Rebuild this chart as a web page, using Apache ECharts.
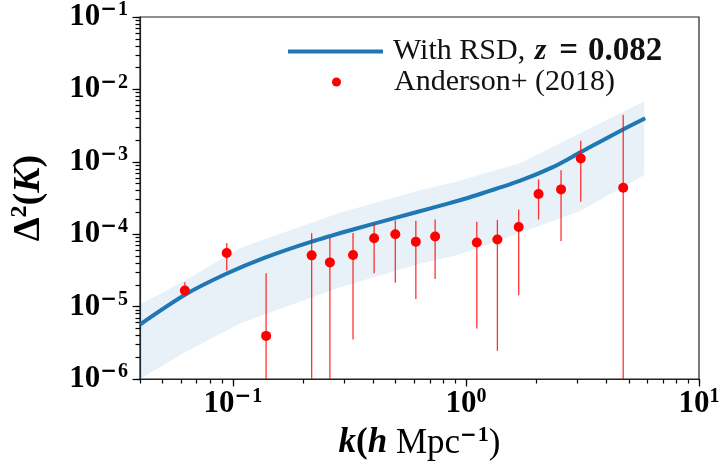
<!DOCTYPE html>
<html>
<head>
<meta charset="utf-8">
<script src="https://cdn.jsdelivr.net/npm/echarts@6/dist/echarts.min.js"></script>
<style>
  html, body { margin: 0; padding: 0; background: #fff; }
  #chart { width: 726px; height: 468px; }
</style>
</head>
<body>
<div id="chart"></div>
<script>
const obsK   = [0.0623, 0.0942, 0.139, 0.218, 0.261, 0.328, 0.404, 0.498, 0.61, 0.738, 1.114, 1.365, 1.685, 2.05, 2.56, 3.11, 4.73];
const obsVal = [1.67e-5, 5.5e-5, 3.94e-6, 5.1e-5, 4.08e-5, 5.16e-5, 8.8e-5, 1.0e-4, 7.87e-5, 9.3e-5, 7.7e-5, 8.45e-5, 1.26e-4, 3.59e-4, 4.16e-4, 1.11e-3, 4.38e-4];
const obsHi  = [2.17e-5, 7.54e-5, 2.88e-5, 1.03e-4, 9.0e-5, 1.04e-4, 1.40e-4, 1.54e-4, 1.53e-4, 1.6e-4, 1.48e-4, 1.58e-4, 2.19e-4, 5.71e-4, 7.67e-4, 1.96e-3, 4.47e-3];
const obsLo  = [1.43e-5, 3.14e-5, 5e-7, 5e-7, 5e-7, 3.5e-6, 2.88e-5, 2.14e-5, 1.27e-5, 2.4e-5, 4.97e-6, 2.45e-6, 1.43e-5, 1.59e-4, 8.03e-5, 2.81e-4, 5e-7];

// model curve with RSD
const modelK   = [0.0401, 0.0629, 0.0943, 0.1357, 0.218, 0.328, 0.498, 0.737, 0.933, 1.04, 1.70, 2.36, 3.11, 4.55, 5.88];
const modelVal = [5.69e-6, 1.48e-5, 2.86e-5, 4.67e-5, 7.88e-5, 1.16e-4, 1.68e-4, 2.37e-4, 2.92e-4, 3.24e-4, 5.45e-4, 8.43e-4, 1.36e-3, 2.63e-3, 4.0e-3];

// shaded band
const bandK     = [0.04, 0.0624, 0.108, 0.286, 0.635, 0.933, 1.70, 3.09, 5.82];
const bandUpper = [1.07e-5, 2.29e-5, 6.5e-5, 1.97e-4, 4.04e-4, 5.42e-4, 9.57e-4, 2.47e-3, 6.8e-3];
const bandLower = [1.0e-6, 2.35e-6, 5.87e-6, 1.84e-5, 3.92e-5, 5.21e-5, 1.04e-4, 2.09e-4, 6.55e-4];

// ticks
const X_MIN = 0.04, X_MAX = 10, Y_MIN = 1e-6, Y_MAX = 1e-1;
const xMajor = [0.1, 1, 10];
const xMinor = [0.04, 0.05, 0.06, 0.07, 0.08, 0.09, 0.2, 0.3, 0.4, 0.5, 0.6, 0.7, 0.8, 0.9, 2, 3, 4, 5, 6, 7, 8, 9];
const yMajor = [1e-6, 1e-5, 1e-4, 1e-3, 1e-2, 1e-1];
const yMinor = [];
[1e-6, 1e-5, 1e-4, 1e-3, 1e-2].forEach(d => { for (let m = 2; m <= 9; m++) yMinor.push(+(m * d).toPrecision(3)); });

const SERIF = "'Liberation Serif', 'DejaVu Serif', serif";
const tickRich = {
  b: { fontFamily: SERIF, fontWeight: 'bold', fontSize: 31, color: '#000' },
  m: { fontFamily: "'DejaVu Sans'", fontWeight: 'bold', fontSize: 20, color: '#000', padding: [0, 1, 14, 0] },
  s: { fontFamily: SERIF, fontWeight: 'bold', fontSize: 20, color: '#000', padding: [0, 0, 14, 0] }
};
function powLabel(v) {
  const e = Math.round(Math.log10(v));
  return '{b|10}' + (e < 0 ? '{m|\u2212}{s|' + (-e) + '}' : '{s|' + e + '}');
}

const chart = echarts.init(document.getElementById('chart'));

const option = {
  animation: false,
  grid: { left: 139, right: 27, top: 15, bottom: 89, show: true, borderColor: '#222', borderWidth: 1.2 },
  legend: [
    {
      data: [{ name: 'model', icon: 'rect' }],
      left: 288, top: 35, padding: 0,
      itemWidth: 95, itemHeight: 4,
      formatter: () => '{r|With RSD, }{bi|z}{eq|=}{b|0.082}',
      textStyle: {
        padding: [0, 0, 0, 5],
        rich: {
          r: { fontFamily: SERIF, fontSize: 30, color: '#111' },
          bi: { fontFamily: SERIF, fontSize: 30, fontWeight: 'bold', fontStyle: 'italic', color: '#111', padding: [0, 0, 0, 2] },
          eq: { fontFamily: SERIF, fontSize: 33, fontWeight: 'bold', color: '#111', padding: [0, 10, 0, 13] },
          b: { fontFamily: SERIF, fontSize: 33, fontWeight: 'bold', color: '#111' }
        }
      }
    },
    {
      data: [{ name: 'Anderson+ (2018)', icon: 'circle' }],
      left: 332, top: 67, padding: 0,
      itemWidth: 95, itemHeight: 9,
      textStyle: { fontFamily: SERIF, fontSize: 30, color: '#111', padding: [0, 0, 0, 5] }
    }
  ],
  xAxis: [
    {
      type: 'log', logBase: 10, min: X_MIN, max: X_MAX,
      axisLine: { show: true, lineStyle: { color: '#222', width: 1.2 } },
      axisTick: { show: true, customValues: xMajor.concat(xMinor), length: 4.5, lineStyle: { color: '#000', width: 1.2 } },
      axisLabel: { customValues: xMajor, formatter: powLabel, margin: 8, rich: tickRich },
      splitLine: { show: false },
      name: '{bi|k}{b|(}{bi|h}{r| Mpc}{m|\u2212}{s|1}{r|)}',
      nameLocation: 'middle', nameGap: 44,
      nameTextStyle: {
        rich: {
          bi: { fontFamily: SERIF, fontSize: 35, fontWeight: 'bold', fontStyle: 'italic', color: '#000' },
          b: { fontFamily: SERIF, fontSize: 35, fontWeight: 'bold', color: '#000' },
          r: { fontFamily: SERIF, fontSize: 35, color: '#000' },
          m: { fontFamily: "'DejaVu Sans'", fontWeight: 'bold', fontSize: 20, color: '#000', padding: [0, 1, 16, 0] },
          s: { fontFamily: SERIF, fontWeight: 'bold', fontSize: 22, color: '#000', padding: [0, 0, 16, 0] }
        }
      }
    },
    {
      // longer ticks at the decades
      type: 'log', logBase: 10, min: X_MIN, max: X_MAX, position: 'bottom',
      axisLine: { show: false },
      axisTick: { show: true, customValues: xMajor, length: 7.5, lineStyle: { color: '#000', width: 1.2 } },
      axisLabel: { show: false },
      splitLine: { show: false }
    }
  ],
  yAxis: [
    {
      type: 'log', logBase: 10, min: Y_MIN, max: Y_MAX,
      axisLine: { show: true, lineStyle: { color: '#222', width: 1.2 } },
      axisTick: { show: true, customValues: yMajor.concat(yMinor), length: 4.5, lineStyle: { color: '#000', width: 1.2 } },
      axisLabel: { customValues: yMajor, formatter: powLabel, margin: 12, rich: tickRich },
      splitLine: { show: false },
      name: '{b|\u0394}{s|2}{b|(}{bi|K}{b|)}',
      nameLocation: 'middle', nameRotate: 90, nameGap: 90,
      nameTextStyle: {
        rich: {
          b: { fontFamily: SERIF, fontSize: 38, fontWeight: 'bold', color: '#000' },
          bi: { fontFamily: SERIF, fontSize: 38, fontWeight: 'bold', fontStyle: 'italic', color: '#000' },
          s: { fontFamily: SERIF, fontSize: 24, fontWeight: 'bold', color: '#000', padding: [0, 0, 18, 0] }
        }
      }
    },
    {
      type: 'log', logBase: 10, min: Y_MIN, max: Y_MAX, position: 'left',
      axisLine: { show: false },
      axisTick: { show: true, customValues: yMajor, length: 7.5, lineStyle: { color: '#000', width: 1.2 } },
      axisLabel: { show: false },
      splitLine: { show: false }
    }
  ],
  series: [
    {
      // shaded uncertainty band
      type: 'custom',
      clip: true,
      silent: true,
      z: 1,
      data: [0],
      renderItem: function (params, api) {
        const pts = [];
        for (let i = 0; i < bandK.length; i++) pts.push(api.coord([bandK[i], bandUpper[i]]));
        for (let i = bandK.length - 1; i >= 0; i--) pts.push(api.coord([bandK[i], bandLower[i]]));
        return { type: 'polygon', shape: { points: pts }, style: { fill: 'rgba(31,119,180,0.1)' } };
      }
    },
    {
      name: 'model',
      type: 'line',
      z: 3,
      data: modelK.map((k, i) => [k, modelVal[i]]),
      symbol: 'none',
      smooth: 0.3,
      lineStyle: { color: '#1f77b4', width: 4 },
      itemStyle: { color: '#1f77b4' }
    },
    {
      // error bars
      type: 'custom',
      clip: true,
      z: 4,
      data: obsK.map((k, i) => [k, obsLo[i], obsHi[i]]),
      encode: { x: 0, y: [1, 2] },
      renderItem: function (params, api) {
        const a = api.coord([api.value(0), api.value(1)]);
        const b = api.coord([api.value(0), api.value(2)]);
        return { type: 'line', shape: { x1: a[0], y1: a[1], x2: b[0], y2: b[1] }, style: { stroke: 'rgba(255,0,0,0.8)', lineWidth: 1.3 } };
      }
    },
    {
      name: 'Anderson+ (2018)',
      type: 'scatter',
      z: 5,
      data: obsK.map((k, i) => [k, obsVal[i]]),
      symbol: 'circle',
      symbolSize: 10,
      itemStyle: { color: '#ff0000', opacity: 1 }
    }
  ]
};

chart.setOption(option);
</script>
</body>
</html>
